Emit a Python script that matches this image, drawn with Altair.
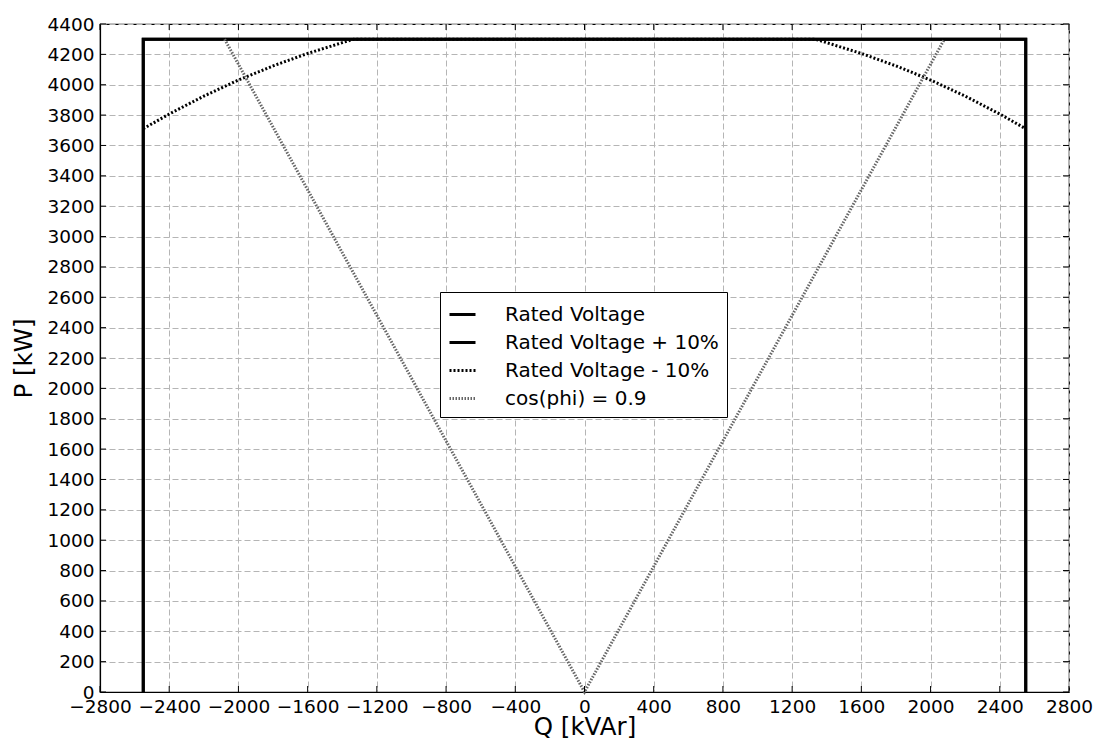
import altair as alt
import pandas as pd

series_names = ["Rated Voltage", "Rated Voltage + 10%", "Rated Voltage - 10%", "cos(phi) = 0.9"]

rated_q = [-2550, -2550, 2550, 2550]
rated_p = [0, 4300, 4300, 0]
plus_q = [-2550, -2550, 2550, 2550]
plus_p = [0, 4300, 4300, 0]
minus_q = [-2550, -2400, -2200, -2000, -1800, -1600, -1400, -1333,
           1333, 1400, 1600, 1800, 2000, 2200, 2400, 2550]
minus_p = [3710, 3807, 3925, 4031, 4124, 4206, 4277, 4300,
           4300, 4277, 4206, 4124, 4031, 3925, 3807, 3710]
cos_q = [-2080, 0, 2080]
cos_p = [4300, 0, 4300]

x_ticks = list(range(-2800, 2801, 400))
y_ticks = list(range(0, 4401, 200))

rows = []
for name, qs, ps in zip(series_names, [rated_q, plus_q, minus_q, cos_q], [rated_p, plus_p, minus_p, cos_p]):
    for i, (q, p) in enumerate(zip(qs, ps)):
        rows.append({"series": name, "order": i, "Q": q, "P": p})
df = pd.DataFrame(rows)

W, H = 969, 668
FONT = "DejaVu Sans"

xscale = alt.Scale(domain=[-2800, 2800], nice=False, zero=False)
yscale = alt.Scale(domain=[0, 4400], nice=False, zero=False)
xaxis = alt.Axis(values=x_ticks, format="d", title="Q [kVAr]", grid=True)
yaxis = alt.Axis(values=y_ticks, format="d", title="P [kW]", grid=True)

lines = alt.Chart(df).mark_line(strokeCap="butt", strokeJoin="miter").encode(
    x=alt.X("Q:Q", scale=xscale, axis=xaxis),
    y=alt.Y("P:Q", scale=yscale, axis=yaxis),
    detail="series:N",
    order="order:Q",
    color=alt.Color("series:N", sort=series_names,
                    scale=alt.Scale(domain=series_names, range=["black", "black", "black", "#666666"]),
                    legend=alt.Legend(title=None)),
    strokeDash=alt.StrokeDash("series:N", sort=series_names,
                              scale=alt.Scale(domain=series_names, range=[[1, 0], [1, 0], [2, 2], [1.5, 1.5]]),
                              legend=alt.Legend(title=None)),
    strokeWidth=alt.StrokeWidth("series:N", sort=series_names,
                                scale=alt.Scale(domain=series_names, range=[3, 3, 3, 2.5]),
                                legend=alt.Legend(title=None)),
)

xt = pd.DataFrame({"Q": x_ticks})
yt = pd.DataFrame({"P": y_ticks})
TL = 6
xt_bot = alt.Chart(xt).mark_rule(color="black", strokeWidth=1).encode(
    x=alt.X("Q:Q", scale=xscale, axis=xaxis), y=alt.value(H), y2=alt.value(H - TL))
xt_top = alt.Chart(xt).mark_rule(color="black", strokeWidth=1).encode(
    x=alt.X("Q:Q", scale=xscale, axis=xaxis), y=alt.value(0), y2=alt.value(TL))
yt_left = alt.Chart(yt).mark_rule(color="black", strokeWidth=1).encode(
    y=alt.Y("P:Q", scale=yscale, axis=yaxis), x=alt.value(0), x2=alt.value(TL))
yt_right = alt.Chart(yt).mark_rule(color="black", strokeWidth=1).encode(
    y=alt.Y("P:Q", scale=yscale, axis=yaxis), x=alt.value(W), x2=alt.value(W - TL))

chart = alt.layer(lines, xt_bot, xt_top, yt_left, yt_right).properties(
    width=W, height=H,
    autosize=alt.AutoSizeParams(type="none"),
    padding={"left": 92, "top": 16, "right": 27, "bottom": 49},
).configure_view(
    stroke="black", strokeWidth=1.2
).configure_axis(
    labelFont=FONT, titleFont=FONT, labelFontSize=18.5, titleFontSize=24.5,
    labelColor="black", titleColor="black", titleFontWeight="normal",
    domainColor="black", domainWidth=1.2, tickSize=0, labelPadding=4,
    gridColor="#b5b5b5", gridDash=[6, 3], gridWidth=1,
    labelFlush=False, labelOverlap=False,
).configure_axisY(
    titlePadding=10, labelPadding=6
).configure_axisX(
    titlePadding=0, labelPadding=5
).configure_legend(
    orient="none", legendX=340, legendY=268,
    labelFont=FONT, labelFontSize=20, labelColor="black",
    strokeColor="black", fillColor="white", padding=8, cornerRadius=0,
    symbolType="stroke", symbolSize=676, rowPadding=3, labelOffset=28,
    labelLimit=400,
)

chart.save("out.html", embed_options={"renderer": "svg", "actions": False})
